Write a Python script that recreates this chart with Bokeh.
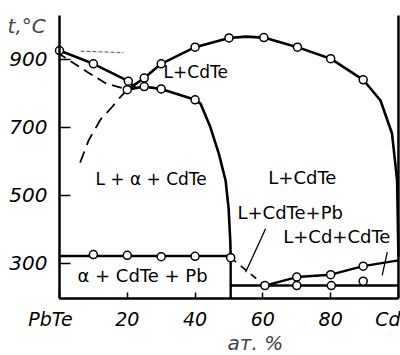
from bokeh.plotting import figure
from bokeh.models import Range1d, FixedTicker, Label
from bokeh.embed import file_html
from bokeh.resources import INLINE

# ---- axes (composition at.% Cd, temperature °C) ----
x_min, x_max = 0, 100
t_min, t_max = 197, 1029
x_ticks = [0, 20, 40, 60, 80, 100]
x_tick_labels = {0: "PbTe\u00a0\u00a0\u00a0", 100: "Cd"}
y_ticks = [300, 500, 700, 900]

# ---- curves ----
liq_pbte_x = [0, 10, 20.3, 22.4]
liq_pbte_t = [926, 887, 836, 816]

liq_cdte_x = [20, 25, 30, 40, 50, 55, 60.3, 70.2, 80, 89.6, 94.7, 98.1, 99.6, 100]
liq_cdte_t = [811, 845, 887, 936, 963, 967, 964, 936, 902, 840, 779, 682, 544, 320]

lower_x = [20, 25, 30, 40, 41.6, 44.5, 47, 49, 49.9, 50.4, 50.5]
lower_t = [811, 820, 813, 781, 770, 701, 623, 544, 461, 363, 320]

dash_pbte_x = [0, 0.6, 8.2, 13.6, 20]
dash_pbte_t = [926, 912, 863, 830, 811]

dash_alpha_x = [20, 17.5, 15.5, 12.1, 8.6, 5.5]
dash_alpha_t = [811, 784, 760, 723, 662, 581]

faint_x = [6.2, 18.9]
faint_t = [924, 920]

eut1_x = [0, 50.5]
eut1_t = [322, 322]
vert_x = [50.5, 50.5]
vert_t = [322, t_min]

eut2_x = [50.5, 100]
eut2_t = [235, 235]

rise_x = [60.6, 70, 80, 89.6, 100]
rise_t = [235, 260, 267, 292, 309]

dash_pb_x = [50.5, 60.6]
dash_pb_t = [317, 235]

right_x = [x_max, x_max]
right_t = [t_min, t_max]

# ---- measured points (circles) ----
pts_x = [0, 10, 20.3, 20, 25, 25, 30, 30, 40, 40, 50, 60.3, 70.2, 80, 89.6,
         10, 20, 30, 40, 50.5,
         60.6, 70, 70, 80, 80.2, 89.6, 89.6]
pts_t = [926, 887, 836, 811, 845, 820, 887, 813, 936, 781, 963, 964, 936, 902, 840,
         326, 324, 320, 321, 317,
         235, 260, 235, 267, 235, 292, 248]

# ---- leader lines ----
lead1_x = [60.8, 54.9]
lead1_t = [402, 274]
lead2_x = [96.7, 95.2]
lead2_t = [333, 265]

# ---- region labels ----
region_text = ["L+CdTe", "L + α + CdTe", "L+CdTe", "L+CdTe+Pb", "L+Cd+CdTe", "α + CdTe + Pb"]
region_x = [30.7, 10.6, 61.6, 52.5, 66.0, 5.3]
region_t = [862, 547, 553, 450, 379, 265]
region_size = ["17px", "17px", "18px", "18px", "18px", "18px"]

FONT = "DejaVu Sans"

p = figure(width=400, height=355, output_backend="svg", toolbar_location=None,
           x_range=Range1d(-17.4, 100.6), y_range=Range1d(29.4, 1073.1),
           min_border_left=0, min_border_right=0, min_border_top=0, min_border_bottom=0)
p.outline_line_color = None
p.grid.visible = False

xa = p.xaxis[0]
xa.fixed_location = t_min
xa.ticker = FixedTicker(ticks=x_ticks)
xa.major_label_overrides = x_tick_labels
xa.bounds = (x_min, x_max)
xa.axis_line_width = 2.5
xa.major_tick_in = 6
xa.major_tick_out = 0
xa.major_tick_line_width = 1.5
xa.minor_tick_line_color = None
xa.major_label_text_font = FONT
xa.major_label_text_font_style = "italic"
xa.major_label_text_font_size = "19px"
xa.major_label_text_color = "black"
xa.major_label_standoff = 10

ya = p.yaxis[0]
ya.fixed_location = x_min
ya.ticker = FixedTicker(ticks=y_ticks)
ya.bounds = (t_min, t_max)
ya.axis_line_width = 2.5
ya.major_tick_in = 11
ya.major_tick_out = 0
ya.major_tick_line_width = 1.5
ya.minor_tick_line_color = None
ya.major_label_text_font = FONT
ya.major_label_text_font_style = "italic"
ya.major_label_text_font_size = "20px"
ya.major_label_text_color = "black"
ya.major_label_standoff = 12

lw = 2.6
p.line(right_x, right_t, line_width=2.5, color="black")
p.line(liq_pbte_x, liq_pbte_t, line_width=lw, color="black", line_join="round")
p.line(liq_cdte_x, liq_cdte_t, line_width=lw, color="black", line_join="round")
p.line(lower_x, lower_t, line_width=lw, color="black", line_join="round")
p.line(dash_pbte_x, dash_pbte_t, line_width=1.8, color="black", line_dash="10 6")
p.line(dash_alpha_x, dash_alpha_t, line_width=1.8, color="black", line_dash="12 7")
p.line(faint_x, faint_t, line_width=1, color="#555555", line_dash="4 2")
p.line(eut1_x, eut1_t, line_width=2.4, color="black")
p.line(vert_x, vert_t, line_width=2.4, color="black")
p.line(eut2_x, eut2_t, line_width=2.4, color="black")
p.line(rise_x, rise_t, line_width=2.4, color="black", line_join="round")
p.line(dash_pb_x, dash_pb_t, line_width=1.6, color="black", line_dash="7 6")
p.line(lead1_x, lead1_t, line_width=1.3, color="black")
p.line(lead2_x, lead2_t, line_width=1.3, color="black")

p.scatter(pts_x, pts_t, size=8, fill_color="white", line_color="black", line_width=1.5)

for txt, xx, tt, sz in zip(region_text, region_x, region_t, region_size):
    p.add_layout(Label(x=xx, y=tt, text=txt, text_font=FONT, text_font_size=sz,
                       text_align="left", text_baseline="middle", text_color="black"))

p.add_layout(Label(x=-15.3, y=998, text="t,°C", text_font=FONT, text_font_size="20px",
                   text_font_style="italic", text_align="left", text_baseline="middle"))
p.add_layout(Label(x=57.8, y=65, text="ат. %", text_font=FONT, text_font_size="20px",
                   text_font_style="italic", text_align="center", text_baseline="middle"))

open("out.html", "w").write(file_html(p, INLINE))
